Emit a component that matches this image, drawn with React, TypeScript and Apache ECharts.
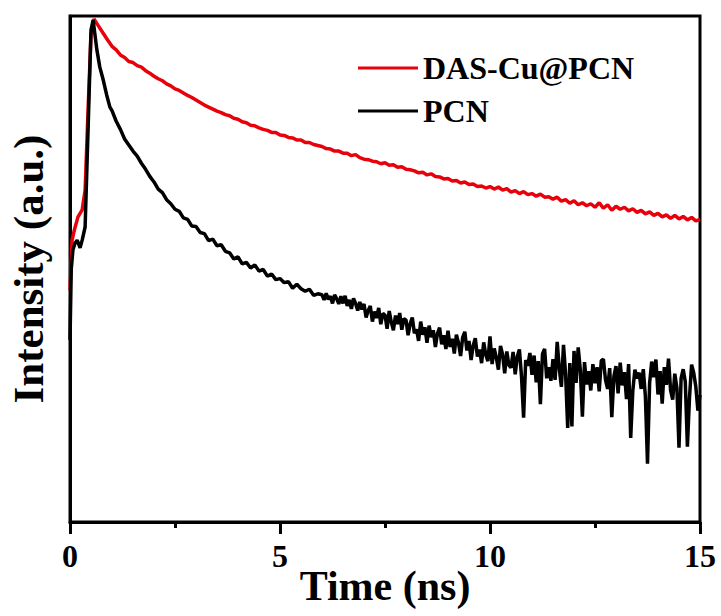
import React, { useEffect, useRef } from "react";
import * as echarts from "echarts";

// Legend / series names
const seriesNames = ["DAS-Cu@PCN", "PCN"];
const seriesColors = ["#e8000b", "#000000"];

// Rising edge (time in ns, intensity in a.u.)
const redRise: [number, number][] = [
  [0, 45.8], [0.05, 55.7], [0.1, 57.6], [0.19, 60.3], [0.29, 61.7], [0.36, 65.6],
  [0.43, 81.4], [0.5, 96.2], [0.57, 99.4], [0.68, 98.0], [0.79, 96.6], [0.9, 95.2],
];
const blackRise: [number, number][] = [
  [0, 36.0], [0.03, 50.0], [0.07, 53.8], [0.12, 55.1], [0.17, 55.7], [0.24, 54.2],
  [0.29, 55.7], [0.36, 58.3], [0.43, 77.5], [0.5, 97.2], [0.55, 99.2], [0.64, 93.3],
  [0.71, 89.9], [0.79, 87.4], [0.87, 84.5], [0.95, 82.0],
];

// DAS-Cu@PCN decay, sampled every 0.1 ns from 1.0 ns to 15.0 ns
const redTailStart = 1.0;
const redTailStep = 0.1;
const redTail = [
  94.0, 93.3, 92.3, 91.8, 91.0, 90.8, 90.2, 89.9, 89.2, 88.7,
  88.1, 87.6, 87.2, 86.6, 86.2, 85.6, 85.3, 84.8, 84.3, 83.9,
  83.4, 82.9, 82.4, 82.0, 81.6, 81.2, 80.9, 80.5, 80.3, 79.8,
  79.6, 79.1, 78.9, 78.4, 78.3, 77.9, 77.6, 77.4, 77.0, 77.0,
  76.5, 76.4, 76.0, 75.9, 75.5, 75.5, 75.0, 75.0, 74.6, 74.4,
  74.2, 73.8, 73.7, 73.3, 73.3, 72.9, 72.9, 72.4, 72.6, 72.0,
  71.7, 71.6, 71.3, 71.2, 70.8, 71.0, 70.5, 70.6, 70.1, 70.2,
  69.7, 69.6, 69.4, 69.0, 69.1, 68.6, 68.8, 68.3, 68.2, 67.8,
  67.9, 67.4, 67.5, 67.0, 67.2, 66.7, 66.8, 66.3, 66.4, 66.0,
  66.3, 65.8, 66.2, 65.6, 65.9, 65.2, 65.5, 64.9, 65.3, 64.7,
  64.9, 64.4, 64.8, 64.2, 64.3, 63.8, 64.2, 63.4, 63.7, 63.0,
  63.5, 62.7, 63.1, 62.5, 62.9, 62.2, 63.1, 62.0, 62.7, 61.6,
  62.4, 61.8, 62.2, 61.5, 61.9, 61.2, 61.6, 60.9, 61.3, 60.6,
  61.0, 60.3, 60.7, 60.0, 60.6, 59.9, 60.4, 59.7, 60.2, 59.5,
  59.8,
];

// PCN decay, sampled every 0.1 ns from 1.0 ns to 5.9 ns
const blackTailAStart = 1.0;
const blackTailAStep = 0.1;
const blackTailA = [
  81.3, 79.2, 77.6, 75.7, 74.5, 73.3, 72.3, 70.9, 69.7, 68.3,
  67.2, 65.8, 65.1, 63.7, 62.9, 61.8, 61.4, 60.1, 59.8, 58.5,
  58.4, 57.2, 57.0, 55.6, 55.9, 54.6, 54.8, 53.5, 53.2, 52.0,
  52.4, 51.0, 51.3, 50.2, 50.8, 49.6, 49.9, 48.6, 49.0, 47.9,
  48.1, 47.3, 47.5, 46.2, 47.0, 46.1, 45.6, 46.0, 44.8, 45.1,
];

// PCN decay, sampled every 0.05 ns from 6.0 ns to 15.0 ns
const blackTailBStart = 6.0;
const blackTailBStep = 0.05;
const blackTailB = [
  44.9, 43.9, 45.2, 44.0, 44.6, 43.2, 44.9, 44.1, 43.1, 44.6,
  43.2, 44.7, 42.7, 43.9, 42.1, 44.2, 43.2, 41.8, 43.5, 42.0,
  43.1, 40.4, 41.8, 42.7, 39.6, 41.6, 40.3, 42.3, 39.1, 41.2,
  40.9, 38.2, 41.7, 39.5, 37.9, 40.8, 39.1, 41.3, 38.0, 40.2,
  39.9, 36.9, 39.2, 40.4, 37.3, 38.1, 35.8, 39.6, 37.0, 38.5,
  35.4, 38.8, 36.5, 37.9, 34.6, 37.3, 38.4, 35.1, 36.9, 34.2,
  37.8, 34.6, 36.2, 33.3, 37.0, 35.4, 32.8, 36.5, 37.6, 33.9,
  35.8, 32.0, 34.9, 36.3, 32.7, 34.1, 31.4, 35.5, 33.0, 31.8,
  36.7, 31.2, 34.3, 32.5, 30.1, 34.8, 33.1, 29.4, 33.7, 31.0,
  30.5, 33.6, 29.2, 32.7, 34.1, 28.8, 20.6, 32.0, 30.9, 33.4,
  29.1, 32.9, 27.6, 31.8, 23.3, 33.2, 34.2, 28.4, 30.6, 27.9,
  32.2, 28.1, 35.6, 30.3, 26.7, 35.0, 29.2, 18.6, 31.4, 18.9,
  33.8, 27.5, 34.5, 30.1, 20.8, 31.6, 27.2, 29.8, 26.0, 31.2,
  27.4, 30.6, 25.8, 31.9, 32.2, 28.1, 26.3, 30.4, 20.7, 28.8,
  30.8, 25.4, 31.5, 27.0, 29.6, 24.3, 31.2, 16.6, 25.9, 30.1,
  28.4, 29.5, 26.3, 30.2, 24.8, 11.5, 27.4, 31.7, 28.6, 32.1,
  25.2, 29.8, 23.4, 30.6, 27.1, 32.3, 26.0, 24.2, 29.3, 26.5,
  14.7, 28.4, 30.2, 27.7, 14.9, 24.6, 31.1, 29.5, 26.8, 22.0,
  25.1,
];

// X axis
const xMin = 0;
const xMax = 15;
const xInterval = 5;

function sampled(start: number, step: number, values: number[]): [number, number][] {
  return values.map((v, i) => [+(start + i * step).toFixed(3), v] as [number, number]);
}

const FONT = "'Liberation Serif', 'Times New Roman', serif";

export default function App() {
  const ref = useRef<HTMLDivElement>(null);

  useEffect(() => {
    if (!ref.current) return;
    const chart = echarts.init(ref.current, undefined, { renderer: "svg" });
    const redData = [...redRise, ...sampled(redTailStart, redTailStep, redTail)];
    const blackData = [
      ...blackRise,
      ...sampled(blackTailAStart, blackTailAStep, blackTailA),
      ...sampled(blackTailBStart, blackTailBStep, blackTailB),
    ];

    chart.setOption({
      animation: false,
      backgroundColor: "#ffffff",
      grid: {
        left: 70,
        right: 21,
        top: 16,
        bottom: 94,
        containLabel: false,
        outerBoundsMode: "none",
        show: true,
        borderColor: "#000",
        borderWidth: 3,
        backgroundColor: "transparent",
      },
      legend: {
        orient: "vertical",
        left: 353,
        top: 47,
        itemWidth: 60,
        itemHeight: 3,
        itemGap: 11,
        icon: "rect",
        data: seriesNames,
        textStyle: {
          fontFamily: FONT,
          fontWeight: "bold",
          fontSize: 32,
          lineHeight: 31,
          color: "#000",
        },
      },
      xAxis: {
        type: "value",
        min: xMin,
        max: xMax,
        interval: xInterval,
        name: "Time (ns)",
        nameLocation: "middle",
        nameGap: 43,
        nameMoveOverlap: false,
        nameTextStyle: {
          fontFamily: FONT,
          fontWeight: "bold",
          fontSize: 42,
          color: "#000",
        },
        axisLine: { show: true, onZero: false, lineStyle: { color: "#000", width: 3 } },
        axisTick: { show: true, inside: false, length: 12, lineStyle: { color: "#000", width: 3 } },
        minorTick: { show: true, splitNumber: 2, length: 6, lineStyle: { color: "#000", width: 3 } },
        axisLabel: {
          margin: 18,
          fontFamily: FONT,
          fontWeight: "bold",
          fontSize: 32,
          color: "#000",
        },
        splitLine: { show: false },
      },
      yAxis: {
        type: "value",
        min: 0,
        max: 100,
        name: "Intensity (a.u.)",
        nameLocation: "middle",
        nameGap: 20,
        nameMoveOverlap: false,
        nameRotate: 90,
        nameTextStyle: {
          fontFamily: FONT,
          fontWeight: "bold",
          fontSize: 43,
          color: "#000",
        },
        axisLine: { show: true, lineStyle: { color: "#000", width: 3 } },
        axisTick: { show: false },
        axisLabel: { show: false },
        splitLine: { show: false },
      },
      series: [
        {
          name: seriesNames[0],
          type: "line",
          data: redData,
          showSymbol: false,
          symbol: "none",
          color: seriesColors[0],
          lineStyle: { color: seriesColors[0], width: 3.5 },
          clip: true,
        },
        {
          name: seriesNames[1],
          type: "line",
          data: blackData,
          showSymbol: false,
          symbol: "none",
          color: seriesColors[1],
          lineStyle: { color: seriesColors[1], width: 3.5 },
          clip: true,
        },
      ],
    });

    return () => {
      chart.dispose();
    };
  }, []);

  return (
    <div
      ref={ref}
      style={{ position: "fixed", left: 0, top: 0, width: 721, height: 616, background: "#fff" }}
    />
  );
}
